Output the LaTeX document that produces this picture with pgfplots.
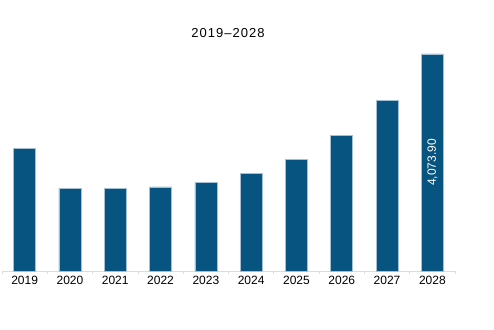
\documentclass[border=0pt]{standalone}
\usepackage{pgfplots}
\pgfplotsset{compat=1.18}
\usepackage{fontspec}
\setmainfont{Liberation Sans}
\setsansfont{Liberation Sans}
\newfontfamily\titlefont[LetterSpace=8]{Liberation Sans}
\definecolor{barfill}{RGB}{8,84,128}
\definecolor{baredge}{RGB}{165,192,212}
\definecolor{axgray}{RGB}{220,220,220}
\begin{document}
\begin{tikzpicture}[x=1pt,y=1pt]
\path[use as bounding box] (0,0) rectangle (494,329);
\node[font=\titlefont\fontsize{13}{15}\selectfont] at (228,296) {2019–2028};
\begin{axis}[
  at={(2pt,58pt)}, anchor=south west,
  scale only axis, width=453pt, height=217pt,
  xmin=-0.5, xmax=9.5, ymin=0, ymax=4073.9,
  ybar, bar width=22pt,
  axis x line*=bottom, axis y line=none,
  x axis line style={axgray, line width=0.8pt, -},
  xtick={0,...,9},
  xticklabels={2019,2020,2021,2022,2023,2024,2025,2026,2027,2028},
  major tick length=0pt,
  minor xtick={-0.5,0.5,...,9.5},
  minor tick length=3pt,
  tick align=outside,
  minor tick style={axgray, line width=0.8pt},
  xticklabel style={font=\fontsize{12}{14}\selectfont, yshift=-2pt},
  /pgf/number format/assume math mode=true,
  clip=false,
]
\addplot[fill=barfill, draw=baredge, line width=0.7pt] coordinates {
(0,2309) (1,1558) (2,1549) (3,1577) (4,1665) (5,1826) (6,2102) (7,2553) (8,3197) (9,4073.9)};
\node[rotate=90, text=white, font=\fontsize{12}{14}\selectfont] at (axis cs:9,2037) {4,073.90};
\end{axis}
\end{tikzpicture}
\end{document}
